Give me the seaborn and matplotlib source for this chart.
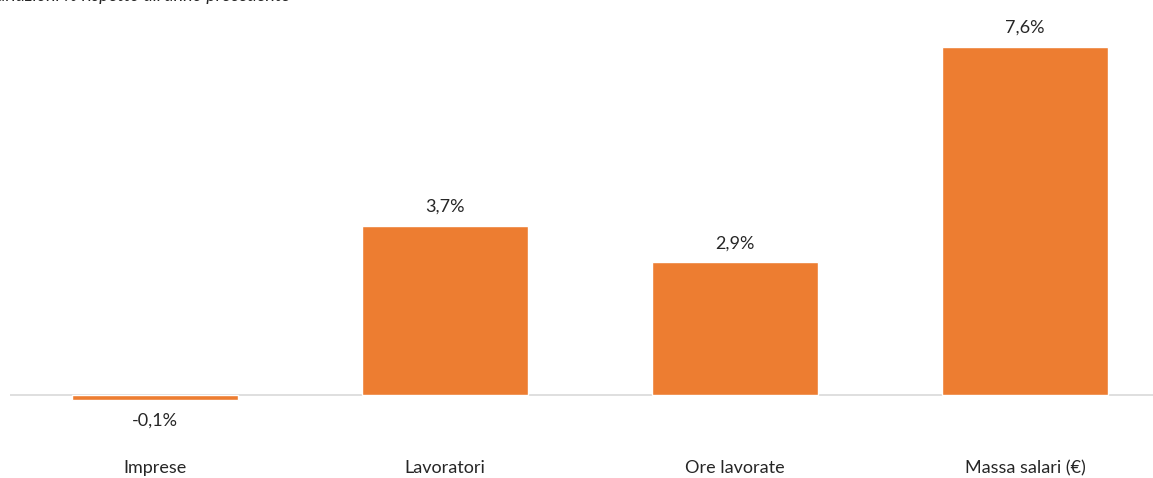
import matplotlib
matplotlib.use("Agg")
import matplotlib.pyplot as plt
import seaborn as sns
import pandas as pd

categorie = ["Imprese", "Lavoratori", "Ore lavorate", "Massa salari (€)"]
variazioni = [-0.1, 3.7, 2.9, 7.6]
etichette = ["-0,1%", "3,7%", "2,9%", "7,6%"]
titolo = "Variazioni % rispetto all'anno precedente"

sns.set_theme(style="white")
plt.rcParams["font.family"] = ["Lato", "DejaVu Sans"]

W, H = 1153, 478
fig = plt.figure(figsize=(W / 100, H / 100), dpi=100)
# axes: zero line at y=395px, 7.6 at y=47px
ax = fig.add_axes([10 / W, 0.0, 1160 / W, 1.0])

df = pd.DataFrame({"cat": categorie, "val": variazioni})
sns.barplot(data=df, x="cat", y="val", color="#ED7D31", width=0.57,
            saturation=1, ax=ax)

ppu = (395 - 47) / 7.6
ax.set_ylim(-(H - 395) / ppu, 395 / ppu)
ax.set_xlim(-0.5, 3.5)
ax.axhline(0, color="#D9D9D9", lw=1.2, zorder=0)

fs = 13
for i, (v, t) in enumerate(zip(variazioni, etichette)):
    if v >= 0:
        ax.text(i, v + 11 / ppu, t, ha="center", va="bottom", fontsize=fs, color="#262626")
    else:
        ax.text(i, v - 13 / ppu, t, ha="center", va="top", fontsize=fs, color="#262626")
    ax.text(i, -73 / ppu, categorie[i], ha="center", va="center", fontsize=fs, color="#262626")

ax.set_xticks([])
ax.set_yticks([])
ax.set_xlabel("")
ax.set_ylabel("")
for s in ax.spines.values():
    s.set_visible(False)

# title is cut at the top edge, as in the original
fig.text(-15 / W, 1 - 1 / H, titolo, ha="left", va="baseline",
         fontsize=fs, style="italic", color="#262626")

fig.savefig("out.png", dpi=100)
